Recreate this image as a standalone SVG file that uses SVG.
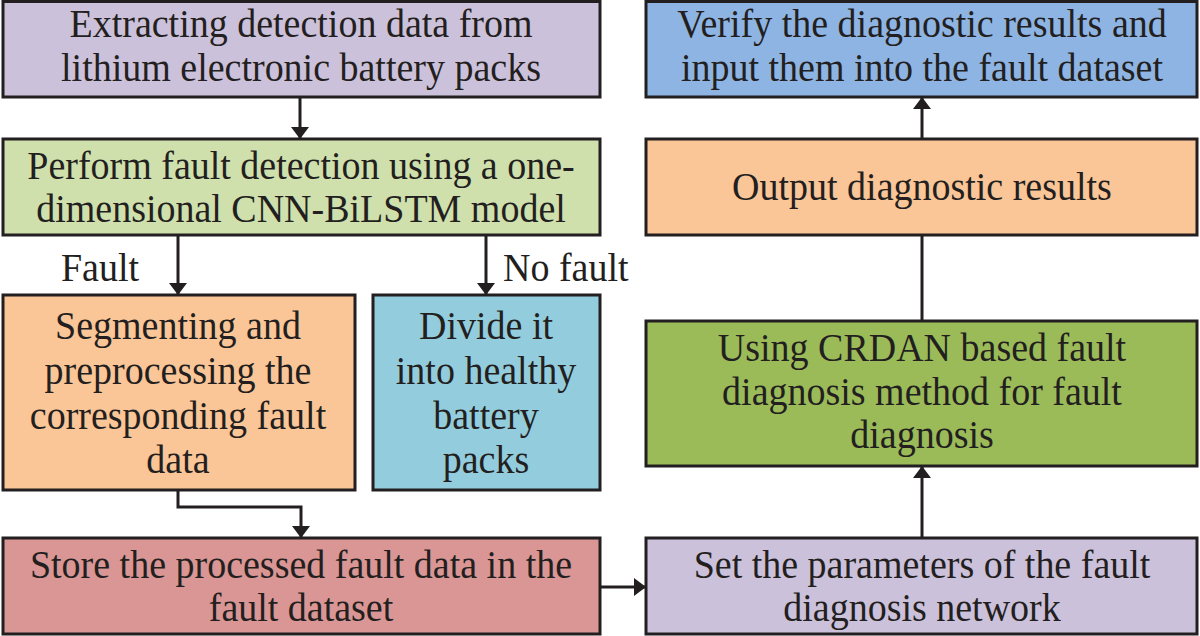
<svg xmlns="http://www.w3.org/2000/svg" width="1200" height="636" viewBox="0 0 1200 636">
<defs>
<style>
.box{stroke:#231f20;stroke-width:3}
.t{font-family:"Liberation Serif","Times New Roman",serif;font-size:38px;fill:#231f20;text-anchor:middle}
.lbl{font-family:"Liberation Serif","Times New Roman",serif;font-size:38px;fill:#231f20}
.c{stroke:#231f20;stroke-width:3;fill:none}
</style>
<marker id="ah" viewBox="0 0 12 18" refX="12" refY="9" markerWidth="12" markerHeight="18" markerUnits="userSpaceOnUse" orient="auto">
<path d="M0,0 L12,9 L0,18 Z" fill="#231f20"/>
</marker>
</defs>
<rect width="1200" height="636" fill="#ffffff"/>
<g id="connectors">
<path class="c" d="M300,97 V139" marker-end="url(#ah)"/>
<path class="c" d="M178,235 V295" marker-end="url(#ah)"/>
<path class="c" d="M486,235 V295" marker-end="url(#ah)"/>
<path class="c" d="M178,490 V507 H301 V538" marker-end="url(#ah)"/>
<path class="c" d="M600,587 H646" marker-end="url(#ah)"/>
<path class="c" d="M922,538 V466" marker-end="url(#ah)"/>
<path class="c" d="M922,321 V235"/>
<path class="c" d="M922,139 V97" marker-end="url(#ah)"/>
</g>
<g id="n1"><rect class="box" x="3" y="1.5" width="597" height="95.5" fill="#ccc1da"/>
<text class="t" transform="translate(301,37) scale(1,1.08)">Extracting detection data from</text>
<text class="t" transform="translate(301,81) scale(1,1.08)">lithium electronic battery packs</text></g>
<g id="n2"><rect class="box" x="3" y="139" width="597" height="96" fill="#cfe0ad"/>
<text class="t" transform="translate(301,179) scale(1,1.08)">Perform fault detection using a one-</text>
<text class="t" transform="translate(301,222) scale(1,1.08)">dimensional CNN-BiLSTM model</text></g>
<text class="lbl" transform="translate(61,281) scale(1,1.08)">Fault</text>
<text class="lbl" transform="translate(503,281) scale(1,1.08)">No fault</text>
<g id="n3"><rect class="box" x="3" y="295" width="352" height="195" fill="#fac597"/>
<text class="t" transform="translate(178,339) scale(1,1.08)">Segmenting and</text>
<text class="t" transform="translate(178,384) scale(1,1.08)">preprocessing the</text>
<text class="t" transform="translate(178,429) scale(1,1.08)">corresponding fault</text>
<text class="t" transform="translate(178,473) scale(1,1.08)">data</text></g>
<g id="n4"><rect class="box" x="373" y="295" width="227" height="195" fill="#93cddd"/>
<text class="t" transform="translate(486,339) scale(1,1.08)">Divide it</text>
<text class="t" transform="translate(486,384) scale(1,1.08)">into healthy</text>
<text class="t" transform="translate(486,429) scale(1,1.08)">battery</text>
<text class="t" transform="translate(486,473) scale(1,1.08)">packs</text></g>
<g id="n5"><rect class="box" x="3" y="538" width="597" height="96" fill="#d99694"/>
<text class="t" transform="translate(301,578) scale(1,1.08)">Store the processed fault data in the</text>
<text class="t" transform="translate(301,621) scale(1,1.08)">fault dataset</text></g>
<g id="n6"><rect class="box" x="646" y="538" width="551" height="96" fill="#ccc1da"/>
<text class="t" transform="translate(922,578) scale(1,1.08)">Set the parameters of the fault</text>
<text class="t" transform="translate(922,621) scale(1,1.08)">diagnosis network</text></g>
<g id="n7"><rect class="box" x="646" y="321" width="551" height="145" fill="#9bbb59"/>
<text class="t" transform="translate(922,361) scale(1,1.08)">Using CRDAN based fault</text>
<text class="t" transform="translate(922,405) scale(1,1.08)">diagnosis method for fault</text>
<text class="t" transform="translate(922,448) scale(1,1.08)">diagnosis</text></g>
<g id="n8"><rect class="box" x="646" y="139" width="551" height="96" fill="#fac597"/>
<text class="t" transform="translate(922,200) scale(1,1.08)">Output diagnostic results</text></g>
<g id="n9"><rect class="box" x="646" y="1.5" width="551" height="95.5" fill="#8eb4e3"/>
<text class="t" transform="translate(922,37) scale(1,1.08)">Verify the diagnostic results and</text>
<text class="t" transform="translate(922,81) scale(1,1.08)">input them into the fault dataset</text></g>
</svg>
